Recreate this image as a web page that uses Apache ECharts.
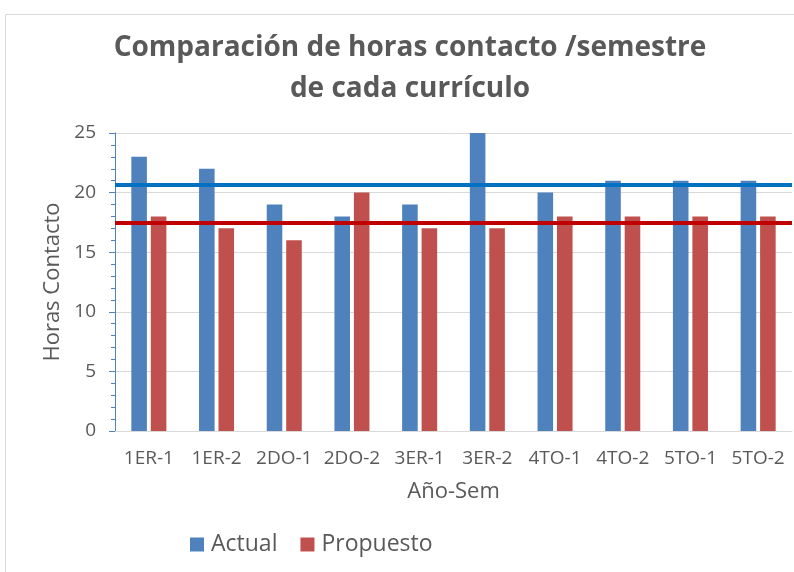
<!DOCTYPE html>
<html>
<head>
<meta charset="utf-8">
<script src="https://cdn.jsdelivr.net/npm/echarts@6/dist/echarts.min.js"></script>
<style>html,body{margin:0;padding:0;background:#fff}#c{width:794px;height:572px}</style>
</head>
<body>
<div id="c"></div>
<script>
const categories = ['1ER-1','1ER-2','2DO-1','2DO-2','3ER-1','3ER-2','4TO-1','4TO-2','5TO-1','5TO-2'];
const actual =    [23, 22, 19, 18, 19, 25, 20, 21, 21, 21];
const propuesto = [18, 17, 16, 20, 17, 17, 18, 18, 18, 18];
const actualRef = 20.7;
const propuestoRef = 17.5;
const yTicks = [0, 5, 10, 15, 20, 25];

const FONT = '"Open Sans", sans-serif';
const chart = echarts.init(document.getElementById('c'), null, {renderer: 'canvas'});
chart.setOption({
  animation: false,
  backgroundColor: '#fff',
  textStyle: {fontFamily: FONT, color: '#595959'},
  graphic: [{
    type: 'rect', silent: true, z: -10,
    shape: {x: 5.5, y: 14.5, width: 820, height: 600},
    style: {fill: 'none', stroke: '#d9d9d9', lineWidth: 1}
  }],
  title: {
    text: 'Comparación de horas contacto /semestre\nde cada currículo',
    left: 405, top: 23, textAlign: 'center',
    textStyle: {fontFamily: FONT, fontWeight: 'bold', fontSize: 28, color: '#595959', lineHeight: 41}
  },
  legend: {
    data: ['Actual', 'Propuesto'],
    left: 185, top: 528,
    itemWidth: 14, itemHeight: 14, itemGap: 23, icon: 'rect',
    textStyle: {fontFamily: FONT, fontSize: 23, color: '#595959', padding: [0, 0, 0, 2]}
  },
  grid: {left: 115, right: 2, top: 133, bottom: 141, containLabel: false},
  xAxis: {
    type: 'category', data: categories,
    name: 'Año-Sem', nameLocation: 'middle', nameGap: 50,
    nameTextStyle: {fontFamily: FONT, fontSize: 22, color: '#595959'},
    axisLine: {lineStyle: {color: '#d9d9d9', width: 1}},
    axisTick: {show: false},
    axisLabel: {fontFamily: FONT, fontSize: 19, color: '#595959', margin: 18, interval: 0}
  },
  yAxis: {
    type: 'value', min: yTicks[0], max: yTicks[yTicks.length - 1], interval: 5,
    name: 'Horas Contacto', nameLocation: 'middle', nameGap: 46,
    nameTextStyle: {fontFamily: FONT, fontSize: 22, color: '#595959'},
    axisLine: {show: true, lineStyle: {color: '#4f81bd', width: 1}},
    axisTick: {show: true, length: 6, lineStyle: {color: '#4f81bd'}},
    minorTick: {show: true, splitNumber: 5, length: 4, lineStyle: {color: '#4f81bd'}},
    axisLabel: {fontFamily: FONT, fontSize: 19, color: '#595959', margin: 19},
    splitLine: {lineStyle: {color: '#d9d9d9', width: 1}}
  },
  series: [
    {
      name: 'Actual', type: 'bar', data: actual,
      barWidth: '23%', barGap: '25%',
      itemStyle: {color: '#4f81bd'},
      markLine: {
        silent: true, symbol: 'none', label: {show: false},
        lineStyle: {color: '#0070c0', width: 4, type: 'solid'},
        data: [{yAxis: actualRef}]
      }
    },
    {
      name: 'Propuesto', type: 'bar', data: propuesto,
      barWidth: '23%', barGap: '25%',
      itemStyle: {color: '#c0504d'},
      markLine: {
        silent: true, symbol: 'none', label: {show: false},
        lineStyle: {color: '#c00000', width: 4, type: 'solid'},
        data: [{yAxis: propuestoRef}]
      }
    }
  ]
});
</script>
</body>
</html>
